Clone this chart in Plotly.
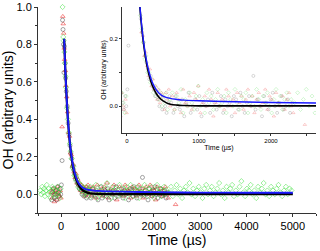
import plotly.graph_objects as go

# ---------------- data ----------------
red_pre_t = [-215, -195, -180, -160, -145, -125, -110, -90, -75, -55, -40, -20, -5]
red_pre_v = [0.01, -0.02, 0.03, 0.0, -0.04, 0.02, 0.01, -0.03, 0.04, 0.0, -0.01, 0.02, -0.02]
red_dec_t = [20, 35, 45, 55, 65, 75, 90, 100, 120, 140, 160, 180, 200, 220, 240, 260, 280, 300,
             320, 340, 360, 380, 400, 420, 440, 460, 480, 500, 520, 540, 560, 580, 600]
red_dec_v = [0.36, 0.95, 0.91, 0.86, 0.78, 0.72, 0.66, 0.58, 0.52, 0.44, 0.33, 0.31, 0.22, 0.21,
             0.15, 0.16, 0.12, 0.09, 0.11, 0.06, 0.08, 0.05, 0.06, 0.02, 0.05, 0.01, 0.04, 0.03,
             -0.01, 0.04, 0.02, 0.05, 0.0]
red_tail_t = [630, 660, 690, 720, 750, 780, 810, 840, 870, 900, 930, 960, 990, 1020, 1050, 1080,
              1110, 1140, 1170, 1200, 1230, 1260, 1290, 1320, 1350, 1380, 1410, 1440, 1470, 1500,
              1530, 1560, 1590, 1620, 1650, 1680, 1710, 1740, 1770, 1800, 1830, 1860, 1890, 1920,
              1950, 1980, 2010, 2040, 2070, 2100, 2130, 2160, 2190, 2220, 2250, 2280, 2310, 2470]
red_tail_v = [0.03, -0.01, 0.04, 0.02, -0.02, 0.05, 0.01, 0.0, 0.03, -0.01, 0.04, 0.02, 0.06,
              -0.02, 0.01, 0.03, 0.0, 0.05, 0.02, -0.03, 0.01, 0.04, 0.0, 0.02, -0.01, 0.05, 0.03,
              0.0, 0.02, -0.02, 0.04, 0.01, 0.03, -0.01, 0.02, 0.05, 0.0, 0.03, -0.02, 0.02, 0.04,
              0.0, 0.01, 0.05, -0.01, 0.03, 0.02, -0.03, 0.04, 0.01, 0.0, 0.03, -0.01, 0.02, 0.04,
              0.0, -0.02, -0.055]

black_pre_t = [-205, -185, -170, -150, -135, -115, -100, -80, -60, -45, -25, -10, 5]
black_pre_v = [-0.03, 0.01, 0.03, -0.02, 0.0, 0.02, -0.03, 0.04, 0.01, -0.01, 0.03, 0.0, 0.05]
black_dec_t = [20, 30, 40, 50, 60, 70, 85, 95, 110, 130, 150, 170, 190, 210, 230, 250, 270, 290,
               310, 330, 350, 370, 390, 410, 430, 450, 470, 490, 510, 530, 550, 570, 590]
black_dec_v = [0.18, 0.93, 0.88, 0.80, 0.65, 0.79, 0.70, 0.62, 0.55, 0.47, 0.38, 0.32, 0.26, 0.22,
               0.19, 0.15, 0.13, 0.11, 0.08, 0.09, 0.06, 0.05, 0.03, 0.04, 0.02, 0.0, 0.03, -0.01,
               0.02, 0.0, -0.02, 0.01, 0.03]
black_tail_t = [615, 645, 675, 705, 735, 765, 795, 825, 855, 885, 915, 945, 975, 1005, 1035, 1065,
                1095, 1125, 1155, 1185, 1215, 1245, 1275, 1305, 1335, 1365, 1395, 1425, 1455, 1485,
                1515, 1545, 1575, 1605, 1635, 1665, 1695, 1725, 1755, 1785, 1815, 1845, 1875, 1905,
                1935, 1965, 1995, 2025, 2055, 2085, 2115, 2145, 2175, 2205, 2235, 2265, 2295]
black_tail_v = [0.01, -0.02, 0.03, 0.0, -0.01, 0.02, -0.03, 0.01, 0.04, -0.02,
                0.0, 0.02, -0.01, 0.03, -0.03, 0.01, 0.0, 0.02, -0.02, 0.04,
                0.01, -0.01, 0.0, 0.03, -0.02, 0.02, 0.0, 0.01, -0.03, 0.03,
                0.02, -0.01, 0.04, 0.0, -0.02, 0.01, 0.03, 0.0, 0.09, -0.01,
                0.02, 0.0, -0.03, 0.03, 0.01, -0.01, 0.02, 0.04, 0.0, -0.02,
                0.01, 0.03, -0.01, 0.0, 0.02, -0.02, 0.01]

green_pre_t = [-450, -430, -410, -390, -370, -350, -330, -310, -290, -270, -250, -230, -210,
               -190, -170, -150, -130, -110, -90, -70, -50, -30, -10]
green_pre_v = [0.02, 0.0, 0.04, 0.01, 0.03, -0.01, 0.02, 0.05, 0.0, 0.03, 0.01, -0.02, 0.02,
               0.04, 0.0, 0.03, -0.01, 0.02, 0.0, 0.04, 0.01, -0.02, 0.03]
green_dec_t = [30, 45, 55, 70, 80, 95, 105, 125, 145, 165, 185, 205, 225, 245, 265, 285, 305, 325,
               345, 365, 385, 405, 425, 445, 465, 485, 505, 525, 545, 565, 585]
green_dec_v = [1.0, 0.84, 0.82, 0.76, 0.70, 0.63, 0.57, 0.46, 0.40, 0.33, 0.27, 0.23, 0.19, 0.14,
               0.15, 0.10, 0.10, 0.07, 0.08, 0.04, 0.06, 0.03, 0.05, 0.02, 0.04, 0.0, 0.03, 0.01,
               0.04, -0.01, 0.02]
green_tail_t = [600, 630, 660, 690, 720, 750, 780, 810, 840, 870, 900, 930, 960, 990, 1020, 1050,
                1080, 1110, 1140, 1170, 1200, 1230, 1260, 1290, 1320, 1350, 1380, 1410, 1440, 1470,
                1500, 1530, 1560, 1590, 1620, 1650, 1680, 1710, 1740, 1770, 1800, 1830, 1860, 1890,
                1920, 1950, 1980, 2010, 2040, 2070, 2100, 2130, 2160, 2190, 2220, 2250, 2280,
                2330, 2370, 2410, 2450, 2490, 2530, 2570, 2610, 2650, 2690, 2730, 2770, 2810, 2850,
                2890, 2930, 2970, 3010, 3050, 3090, 3130, 3170, 3210, 3250, 3290, 3330, 3370, 3410,
                3450, 3490, 3530, 3570, 3610, 3650, 3690, 3730, 3770, 3810, 3850, 3890, 3930, 3970,
                4010, 4050, 4090, 4130, 4170, 4210, 4250, 4290, 4330, 4370, 4410, 4450, 4490, 4530,
                4570, 4610, 4650, 4690, 4730, 4770, 4810, 4850, 4890, 4930, 4970]
green_tail_v = [0.02, 0.04, -0.01, 0.03, 0.01, 0.05, -0.02, 0.02, 0.0, 0.04,
                0.01, -0.01, 0.03, 0.06, 0.0, 0.02, -0.02, 0.04, 0.01, 0.03,
                -0.01, 0.02, 0.05, 0.0, 0.01, 0.03, -0.02, 0.04, 0.02, 0.0,
                0.05, 0.01, -0.01, 0.03, 0.02, 0.04, -0.02, 0.01, 0.03, 0.0,
                0.05, 0.02, -0.01, 0.03, 0.01, 0.04, 0.0, -0.02, 0.02, 0.05,
                0.01, 0.03, -0.01, 0.02, 0.04, 0.0, 0.02,
                0.01, 0.04, -0.01, 0.02, 0.05, 0.0, 0.03, -0.02, 0.02, 0.04,
                0.01, 0.06, 0.0, 0.03, -0.01, 0.02, 0.04, 0.01, -0.02, 0.03,
                0.05, 0.0, 0.02, 0.04, -0.01, 0.01, 0.03, 0.06, 0.0, 0.02,
                -0.02, 0.04, 0.01, 0.03, 0.05, -0.01, 0.02, 0.0, 0.04, 0.07,
                0.01, -0.01, 0.03, 0.02, 0.05, 0.0, 0.02, -0.02, 0.04, 0.01,
                0.03, 0.06, 0.0, 0.02, -0.01, 0.04, 0.02, 0.0, 0.03, 0.05,
                0.01, -0.01, 0.02, 0.04, 0.0, 0.03, 0.02]

fit_t = [65, 80, 100, 120, 140, 160, 180, 200, 225, 250, 275, 300, 350, 400, 450, 500, 600, 700,
         800, 1000, 1500, 2000, 3000, 4000, 5000]
fit_black = [0.83, 0.725, 0.604, 0.504, 0.420, 0.350, 0.292, 0.243, 0.194, 0.155, 0.123, 0.098,
             0.062, 0.040, 0.025, 0.016, 0.006, 0.003, 0.002, 0.001, 0.001, 0.001, 0.001, 0.001,
             0.001]
fit_blue = [0.83, 0.725, 0.605, 0.506, 0.423, 0.354, 0.297, 0.249, 0.200, 0.162, 0.131, 0.107,
            0.072, 0.051, 0.038, 0.030, 0.023, 0.020, 0.018, 0.016, 0.013, 0.011, 0.009, 0.008,
            0.008]

main_x_ticks = [0, 1000, 2000, 3000, 4000, 5000]
main_y_ticks = [0.0, 0.2, 0.4, 0.6, 0.8, 1.0]
inset_x_ticks = [0, 1000, 2000]
inset_y_ticks = [0.0, 0.2]

# ---------------- figure ----------------
FONT = "Liberation Sans, Arial, sans-serif"
series = [
    (red_pre_t + red_dec_t + red_tail_t, red_pre_v + red_dec_v + red_tail_v,
     "triangle-up-open", "rgba(235,20,20,0.7)", "rgba(240,60,60,0.35)"),
    (black_pre_t + black_dec_t + black_tail_t, black_pre_v + black_dec_v + black_tail_v,
     "circle-open", "rgba(60,60,60,0.65)", "rgba(70,70,70,0.3)"),
    (green_pre_t + green_dec_t + green_tail_t, green_pre_v + green_dec_v + green_tail_v,
     "diamond-open", "rgba(40,220,40,0.65)", "rgba(40,210,40,0.3)"),
]

fig = go.Figure()
for xa, ya, size, main in [("x", "y", 4, True), ("x2", "y2", 3, False)]:
    for t, v, sym, col_main, col_inset in series:
        fig.add_trace(go.Scatter(
            x=t, y=v, mode="markers", xaxis=xa, yaxis=ya, cliponaxis=not main,
            marker=dict(symbol=sym, size=size,
                        color=col_main if main else col_inset,
                        line=dict(width=0.7, color=col_main if main else col_inset)),
            showlegend=False, hoverinfo="skip"))
    fig.add_trace(go.Scatter(x=fit_t, y=fit_black, mode="lines", xaxis=xa, yaxis=ya,
                             line=dict(color="black", width=2.2 if main else 1.6, shape="spline"),
                             showlegend=False))
    fig.add_trace(go.Scatter(x=fit_t, y=fit_blue, mode="lines", xaxis=xa, yaxis=ya,
                             line=dict(color="#1a1aff", width=1.8 if main else 1.4, shape="spline"),
                             showlegend=False))

axis_common = dict(showline=True, linecolor="#333", linewidth=1, showgrid=False, zeroline=False,
                   ticks="outside", tickcolor="#333", automargin=False)

fig.update_layout(
    width=320, height=251,
    margin=dict(l=38, r=4, t=7, b=38),
    paper_bgcolor="white", plot_bgcolor="white",
    font=dict(family=FONT, color="black"),
    xaxis=dict(**axis_common, range=[-500, 5500], tickvals=main_x_ticks, ticklen=3,
               tickfont=dict(size=11),
               minor=dict(ticks="outside", ticklen=2, dtick=500, tickcolor="#333"),
               title=dict(text="Time (µs)", font=dict(size=14), standoff=3)),
    yaxis=dict(**axis_common, range=[-0.1, 1.0], tickvals=main_y_ticks, tickformat=".1f",
               ticklen=3, tickfont=dict(size=11),
               minor=dict(ticks="outside", ticklen=2, dtick=0.1, tickcolor="#333"),
               title=dict(text="OH (arbitrary units)", font=dict(size=14), standoff=2)),
    xaxis2=dict(**axis_common, domain=[0.302, 1.0], anchor="y2", range=[-70, 2625],
                tickvals=inset_x_ticks, ticklen=2, tickfont=dict(size=6),
                minor=dict(ticks="outside", ticklen=2, dtick=500, tickcolor="#333"),
                title=dict(text="Time (µs)", font=dict(size=7, color="black"), standoff=1)),
    yaxis2=dict(**axis_common, domain=[0.388, 1.0], anchor="x2", range=[-0.08, 0.295],
                tickvals=inset_y_ticks, tickformat=".1f", ticklen=2, tickfont=dict(size=6),
                minor=dict(ticks="outside", ticklen=2, dtick=0.1, tickcolor="#333"),
                title=dict(text="OH (arbitrary units)", font=dict(size=7, color="black"),
                           standoff=1)),
)

fig.write_html("out.html", config={"displayModeBar": False},
               post_script="document.body.style.margin='0';")
